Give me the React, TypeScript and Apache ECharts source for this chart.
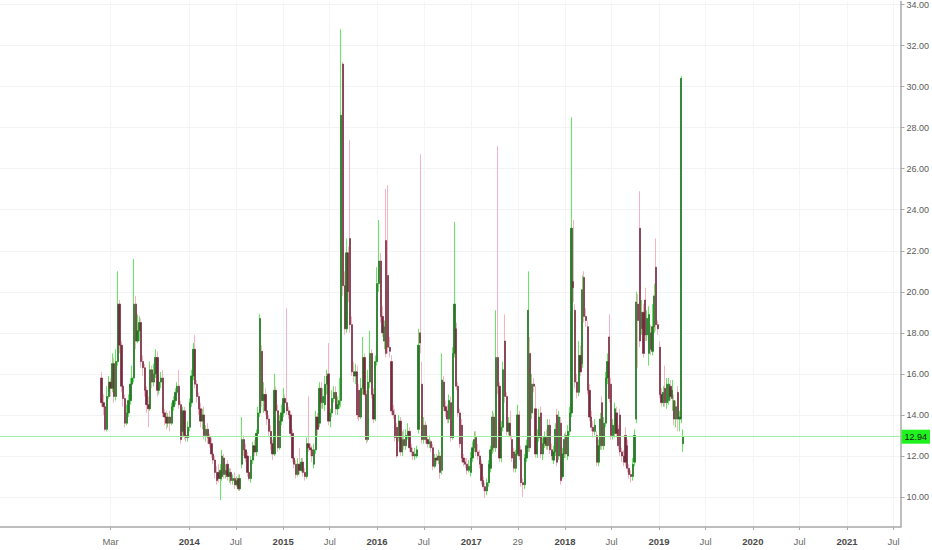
import React, { useEffect, useRef } from "react";
import * as echarts from "echarts";

// weekly candles, first week starting late January 2013
const START = Date.UTC(2013, 0, 25);
const WEEK = 7 * 24 * 3600 * 1000;

const opens = [
  15.8,14.6,14.4,13.3,14.9,15.6,15.3,16.5,14.9,16.6,
  19.4,17.4,15.4,14.8,13.6,14.1,14.7,15.5,15.8,19.4,
  17.6,18.1,18.5,16.6,16.3,15.2,14.5,14.3,16.2,15.6,
  16.0,16.8,15.2,15.6,15.8,14.1,13.9,13.6,13.9,13.6,
  14.4,14.7,15.1,15.4,14.5,13.2,14.2,13.0,12.9,13.4,
  14.6,15.9,17.2,15.5,14.9,14.3,13.7,14.0,13.0,13.3,
  12.9,12.6,12.1,11.8,11.2,
  11.2,10.9,11.0,11.9,11.1,
  11.6,11.0,11.2,10.8,10.9,10.6,10.9,10.4,11.6,12.8,
  12.3,12.0,11.2,10.9,11.8,12.5,12.2,13.1,14.1,17.1,
  14.7,15.0,14.2,13.8,13.2,12.6,12.1,15.2,14.2,12.4,
  13.7,14.1,14.8,14.6,14.2,14.0,13.1,11.9,11.6,11.1,
  11.6,11.3,11.7,11.2,11.0,12.6,12.4,12.3,11.6,12.3,
  13.9,13.6,15.3,14.6,14.5,15.5,16.0,13.7,14.1,14.8,
  15.1,14.3,14.5,14.7,31.1,20.3,18.2,21.9,22.6,18.4,
  16.1,15.9,16.1,15.2,13.9,15.3,16.8,15.0,12.8,15.6,
  17.0,15.0,13.8,16.6,20.4,21.5,18.8,17.6,22.5,20.8,
  17.3,16.6,14.2,14.0,13.4,12.9,13.7,12.2,12.8,12.5,
  13.0,13.2,12.4,12.2,12.0,12.0,13.3,18.0,15.5,12.8,
  13.5,12.8,12.6,12.7,12.4,11.5,11.9,11.8,12.0,11.3,
  15.6,14.4,14.2,13.8,14.6,
  12.9,17.0,18.2,15.4,14.1,
  13.5,11.9,11.7,11.6,11.3,11.2,11.9,12.4,12.9,12.2,
  12.0,11.6,10.8,10.5,10.3,10.7,11.4,12.3,13.9,12.4,
  16.8,15.4,11.9,13.4,17.6,14.9,13.2,13.6,12.8,12.2,
  11.4,12.1,14.0,12.3,10.7,10.6,11.9,12.4,17.0,14.1,
  15.5,14.3,12.1,12.9,14.1,12.1,12.6,12.9,12.5,13.5,
  12.3,11.8,12.2,14.0,12.0,13.6,11.0,12.1,13.0,12.0,
  13.2,14.1,
  20.5,19.1,15.6,15.1,16.9,16.5,20.7,18.8,
  18.3,15.2,13.9,13.4,13.2,13.0,11.7,12.5,14.6,12.5,
  13.6,15.8,17.8,15.5,13.0,13.1,14.1,13.3,14.0,12.2,
  12.0,13.0,12.5,11.4,11.1,11.0,11.7,13.8,19.4,23.1,
  18.2,19.0,19.6,17.9,17.0,18.0,17.1,18.3,21.2,18.4,
  17.3,15.0,14.6,15.3,14.6,14.7,15.4,14.8,14.7,13.8,
  15.1,13.8,13.8,12.6,
];

const closes = [
  14.6,14.4,13.3,14.9,15.6,15.3,16.5,14.9,16.6,19.4,
  17.4,15.4,14.8,13.6,14.1,14.7,15.5,15.8,19.4,17.6,
  18.1,18.5,16.6,16.3,15.2,14.5,14.3,16.2,15.6,16.0,
  16.8,15.2,15.6,15.8,14.1,13.9,13.6,13.9,13.6,14.4,
  14.7,15.1,15.4,14.5,12.8,14.2,13.0,12.9,13.4,14.6,
  15.9,17.2,15.5,14.9,14.3,13.7,14.0,13.0,13.3,12.9,
  12.6,12.1,11.8,11.2,10.8,
  10.9,11.3,12.0,11.1,11.3,
  11.0,11.2,10.8,10.9,10.6,10.8,10.4,10.9,12.8,12.3,
  11.9,11.2,10.9,11.8,12.5,12.2,13.1,14.1,18.7,14.7,
  15.0,14.2,13.8,13.2,12.6,12.1,15.2,14.2,12.4,13.7,
  14.1,14.8,14.6,14.2,14.0,13.1,11.9,11.6,11.1,11.6,
  11.3,11.7,11.2,11.0,12.6,12.4,12.3,12.0,12.3,13.9,
  13.3,15.3,14.6,14.9,15.5,15.9,13.7,14.1,14.8,15.1,
  14.3,14.5,14.7,28.6,20.3,18.2,21.9,20.0,18.4,16.1,
  15.9,16.1,14.0,13.9,15.3,16.8,15.0,12.8,15.6,17.0,
  15.0,13.8,16.6,20.4,21.5,18.8,18.0,18.3,17.0,17.3,
  17.1,14.2,14.0,12.9,12.0,13.7,12.2,12.8,12.5,13.0,
  13.2,12.4,12.2,12.0,12.1,12.3,17.4,17.5,12.8,13.5,
  12.8,12.6,12.7,12.4,11.5,11.9,11.8,12.0,11.2,15.7,
  14.4,14.2,13.8,14.7,12.9,
  17.0,19.4,15.4,14.1,12.6,
  11.9,11.7,11.6,11.3,11.5,11.9,12.4,12.8,12.2,12.0,
  11.6,10.8,10.5,10.3,10.7,11.6,12.3,13.9,12.4,16.8,
  15.4,11.9,13.4,16.2,14.9,13.2,13.6,13.0,11.9,11.4,
  12.1,14.0,12.0,10.7,10.6,11.9,12.5,19.1,12.4,15.5,
  15.4,12.1,12.9,13.9,12.1,12.6,12.9,12.5,13.5,12.3,
  12.0,12.2,13.3,11.7,13.9,10.8,12.1,12.8,12.1,13.2,
  14.1,23.1,
  20.2,15.6,15.1,16.9,16.1,20.1,18.8,18.6,
  15.2,13.9,13.4,13.2,13.5,11.7,12.5,13.8,12.5,13.6,
  15.8,16.6,14.8,13.0,13.5,14.3,13.1,12.5,12.2,12.0,
  11.7,11.7,11.4,11.1,11.0,11.6,13.0,19.5,18.6,17.6,
  19.0,17.0,17.9,18.7,18.9,17.2,18.3,19.8,18.4,18.2,
  15.0,14.6,15.1,14.6,15.5,15.5,14.9,15.2,13.8,14.4,
  13.8,13.9,30.4,12.94,
];

const highs = [
  16.1,15.0,14.6,15.4,15.9,15.8,17.0,16.8,17.2,21.0,
  19.6,17.6,15.6,15.0,14.5,15.0,15.8,16.4,21.6,19.8,
  18.9,18.8,18.7,16.9,16.5,15.4,14.9,16.6,16.4,16.5,
  17.2,17.1,16.0,16.1,16.2,14.3,14.2,14.1,14.2,14.6,
  14.9,15.3,15.6,16.2,14.7,14.4,14.4,13.3,13.7,14.8,
  16.2,17.5,17.9,15.7,15.1,14.6,14.3,14.4,13.5,13.6,
  13.1,12.9,12.4,12.0,11.5,
  11.6,11.6,12.3,12.1,11.6,
  11.8,11.4,11.4,11.1,11.2,11.0,11.1,11.1,13.9,13.0,
  12.6,12.2,11.5,12.0,12.7,12.8,13.3,14.4,18.9,17.4,
  15.6,15.3,14.6,14.0,13.5,12.8,16.0,15.4,14.5,14.0,
  14.5,15.3,15.0,19.2,14.4,14.2,13.3,12.1,11.8,11.9,
  12.4,11.9,11.9,11.4,12.9,14.9,12.6,12.5,12.6,14.2,
  14.1,15.6,15.6,15.3,15.9,16.2,17.5,14.3,15.2,15.4,
  15.4,14.9,15.8,32.8,31.2,21.0,22.6,22.2,27.4,18.8,
  16.6,16.5,16.4,15.5,15.8,17.8,17.0,15.2,16.2,18.1,
  17.2,15.3,16.9,21.2,23.5,21.9,19.3,18.6,25.0,25.2,
  17.8,16.9,14.5,14.3,13.6,14.0,13.9,13.2,13.3,13.3,
  13.6,13.4,12.6,12.4,12.4,12.5,18.2,26.7,16.6,13.9,
  13.7,13.0,13.0,12.8,12.6,12.1,12.1,12.3,12.2,17.0,
  15.9,14.7,14.5,15.0,14.9,
  17.3,23.4,18.5,15.6,14.3,
  13.8,12.1,11.9,11.9,11.8,12.2,12.7,13.2,13.2,12.6,
  12.3,11.8,11.0,10.7,10.9,11.8,12.5,14.2,14.1,19.1,
  27.1,15.6,13.7,16.6,18.9,15.1,13.9,14.2,13.0,12.4,
  12.3,14.5,14.2,12.5,10.9,12.1,12.8,21.0,17.8,16.0,
  15.8,15.4,13.3,14.3,14.4,12.9,13.2,13.3,13.8,13.8,
  12.6,12.5,13.6,14.3,14.2,13.9,12.4,13.1,13.2,13.5,
  14.4,28.5,
  23.5,19.4,16.0,17.6,17.4,20.8,21.0,19.2,
  18.6,15.5,14.2,13.7,13.8,13.2,12.8,14.1,14.9,13.9,
  16.1,17.0,18.9,15.8,13.8,14.6,14.4,13.5,14.3,12.4,
  12.3,13.4,12.8,11.6,11.3,11.9,13.3,20.0,19.9,24.9,
  19.6,19.4,20.2,19.1,19.3,18.4,19.4,20.4,22.6,18.6,
  17.6,15.3,15.4,16.4,15.8,15.8,15.7,15.7,15.0,14.7,
  15.4,14.2,30.5,13.3,
];

const lows = [
  14.4,14.0,13.2,13.2,14.8,14.9,15.1,14.6,14.7,16.4,
  17.0,15.1,14.4,13.4,13.5,13.9,14.5,15.3,15.6,17.2,
  17.5,17.6,16.3,15.9,14.9,14.1,13.4,14.2,15.3,15.4,
  15.8,14.9,15.0,15.3,13.9,13.5,13.3,13.4,13.2,13.5,
  14.2,14.5,14.9,14.3,12.6,12.9,12.8,12.7,12.7,13.2,
  14.4,15.7,15.3,14.6,14.0,13.4,13.3,12.8,12.7,12.6,
  12.4,11.9,11.6,10.9,10.6,
  10.7,9.85,10.8,10.9,10.9,
  10.8,10.7,10.6,10.6,10.4,10.5,10.3,10.3,11.4,12.0,
  11.7,11.0,10.8,10.7,11.6,12.0,12.0,13.0,13.9,14.4,
  14.1,14.0,13.5,12.9,12.3,11.8,12.0,13.9,12.2,12.3,
  13.5,13.9,14.4,14.0,13.8,12.9,11.7,11.4,10.9,11.0,
  11.1,11.2,11.0,10.8,10.9,12.2,12.0,11.7,11.4,12.1,
  13.0,13.4,14.3,14.3,14.2,15.0,13.5,13.4,13.9,14.6,
  14.0,14.0,14.3,14.4,19.8,17.9,18.0,19.5,18.0,15.9,
  15.6,15.5,13.8,13.7,13.8,15.0,14.9,12.6,12.7,15.3,
  14.8,13.6,13.7,16.4,20.0,18.5,17.8,17.2,16.8,17.0,
  16.8,14.0,13.8,12.7,11.9,12.7,12.0,12.0,12.3,12.3,
  12.8,12.2,12.0,11.8,11.8,11.9,13.1,17.0,12.6,12.6,
  12.6,12.4,12.4,12.2,11.3,11.4,11.6,11.6,10.9,11.1,
  14.2,13.9,13.6,13.6,12.7,
  12.8,16.8,15.2,13.9,12.4,
  11.7,11.5,11.4,11.1,11.2,11.0,11.7,12.2,12.0,11.8,
  11.4,10.6,10.3,9.95,10.1,10.5,11.2,12.1,12.2,12.2,
  15.0,11.7,11.7,13.2,14.6,13.0,13.0,12.8,11.7,11.2,
  11.2,12.0,11.8,10.5,10.0,10.4,11.7,12.2,12.2,13.8,
  15.1,11.9,11.9,12.7,11.9,11.8,12.4,12.3,12.3,12.1,
  11.8,11.6,12.0,11.5,11.8,10.6,10.9,11.9,11.9,11.8,
  13.0,13.9,
  19.5,15.3,14.8,14.9,15.9,16.3,18.5,18.3,
  15.0,13.7,13.2,12.9,13.0,11.5,11.5,12.3,12.3,12.3,
  13.4,15.5,14.6,12.8,12.8,12.9,12.9,12.3,12.0,11.7,
  11.5,11.5,11.2,10.9,10.7,10.8,11.5,13.6,16.3,17.3,
  17.9,16.8,17.6,17.6,16.4,16.9,16.9,18.0,18.1,17.9,
  14.8,14.4,14.4,14.4,14.3,14.5,14.7,14.2,13.5,13.4,
  13.2,13.2,13.6,12.2,
];

const yTicks = [10, 12, 14, 16, 18, 20, 22, 24, 26, 28, 30, 32, 34];
const xTickDates = [
  "2013-03-01", "2014-01-01", "2014-07-01", "2015-01-01", "2015-07-01",
  "2016-01-01", "2016-07-01", "2017-01-01", "2017-07-01", "2018-01-01",
  "2018-07-01", "2019-01-01", "2019-07-01", "2020-01-01", "2020-07-01",
  "2021-01-01", "2021-07-01",
];
const xTickLabels = [
  "Mar", "2014", "Jul", "2015", "Jul", "2016", "Jul", "2017", "29", "2018",
  "Jul", "2019", "Jul", "2020", "Jul", "2021", "Jul",
];
const lastPrice = 12.94;

export default function App() {
  const ref = useRef<HTMLDivElement>(null);

  useEffect(() => {
    if (!ref.current) return;
    const chart = echarts.init(ref.current, null, { renderer: "svg" });
    const n = Math.min(opens.length, closes.length, highs.length, lows.length);
    const times: number[] = [];
    for (let i = 0; i < n; i++) times.push(START + i * WEEK);
    const full = times.map((t, i) => [t, opens[i], closes[i], lows[i], highs[i]]);
    const bodies = times.map((t, i) => [
      t, opens[i], closes[i],
      Math.min(opens[i], closes[i]), Math.max(opens[i], closes[i]),
    ]);
    const xTickVals = xTickDates.map((d) => Date.parse(d + "T00:00:00Z"));
    const font = '"Liberation Sans", Arial, Helvetica, sans-serif';

    chart.setOption({
      animation: false,
      backgroundColor: "#ffffff",
      textStyle: { fontFamily: font },
      grid: { left: 0, right: 27, top: 0, bottom: 23, containLabel: false },
      xAxis: {
        type: "value",
        min: Date.UTC(2011, 11, 27),
        max: Date.UTC(2021, 6, 28),
        axisLine: { show: true, lineStyle: { color: "#a8a8a8", width: 1.5 } },
        axisTick: {
          show: true, customValues: xTickVals, length: 3,
          lineStyle: { color: "#a8a8a8" },
        },
        axisLabel: {
          customValues: xTickVals,
          margin: 9,
          fontSize: 9.5,
          color: "#6a6a6a",
          fontFamily: font,
          formatter: (v: number) => {
            let idx = -1;
            for (let i = 0; i < xTickVals.length; i++) {
              if (Math.abs(xTickVals[i] - v) < 3600 * 1000 * 12) { idx = i; break; }
            }
            if (idx < 0) return "";
            const lab = xTickLabels[idx];
            return /^\d{4}$/.test(lab) ? `{y|${lab}}` : lab;
          },
          rich: {
            y: { fontWeight: "bold", color: "#4a4a4a", fontSize: 9.5, fontFamily: font },
          },
        },
        splitLine: { show: true, lineStyle: { color: "#f5f5f5", width: 1 } },
      },
      yAxis: {
        type: "value",
        position: "right",
        min: 8.54,
        max: 34.15,
        axisLine: { show: true, lineStyle: { color: "#a8a8a8", width: 1.5 } },
        axisTick: {
          show: true, customValues: yTicks, length: 4,
          lineStyle: { color: "#a8a8a8" },
        },
        axisLabel: {
          customValues: yTicks,
          margin: 6,
          fontSize: 9,
          color: "#5a5a5a",
          fontFamily: font,
          formatter: (v: number) => v.toFixed(2),
        },
        splitLine: { show: true, lineStyle: { color: "#f3f3f3", width: 1 } },
      },
      series: [
        {
          name: "wicks",
          type: "candlestick",
          data: full,
          encode: { x: 0, y: [1, 2, 3, 4] },
          barWidth: 1.8,
          itemStyle: {
            color: "rgba(0,0,0,0)",
            color0: "rgba(0,0,0,0)",
            borderColor: "#62e862",
            borderColor0: "#f6b4c3",
            borderWidth: 1,
          },
          markLine: {
            silent: true,
            symbol: ["none", "none"],
            lineStyle: { color: "#9ff09f", width: 1, type: "solid" },
            label: {
              show: true,
              position: "end",
              distance: 1,
              formatter: lastPrice.toFixed(2),
              backgroundColor: "#1ff21f",
              color: "#1a1a1a",
              fontSize: 9,
              fontFamily: font,
              padding: [3, 3, 2, 3],
            },
            data: [{ yAxis: lastPrice }],
          },
        },
        {
          name: "bodies",
          type: "candlestick",
          data: bodies,
          encode: { x: 0, y: [1, 2, 3, 4] },
          barWidth: 1.8,
          itemStyle: {
            color: "#2c742c",
            color0: "#762a3e",
            borderColor: "#276527",
            borderColor0: "#652334",
            borderWidth: 0.5,
          },
        },
      ],
    });

    return () => chart.dispose();
  }, []);

  return (
    <div
      ref={ref}
      style={{ position: "fixed", left: 0, top: 0, width: 932, height: 550, background: "#fff" }}
    />
  );
}
